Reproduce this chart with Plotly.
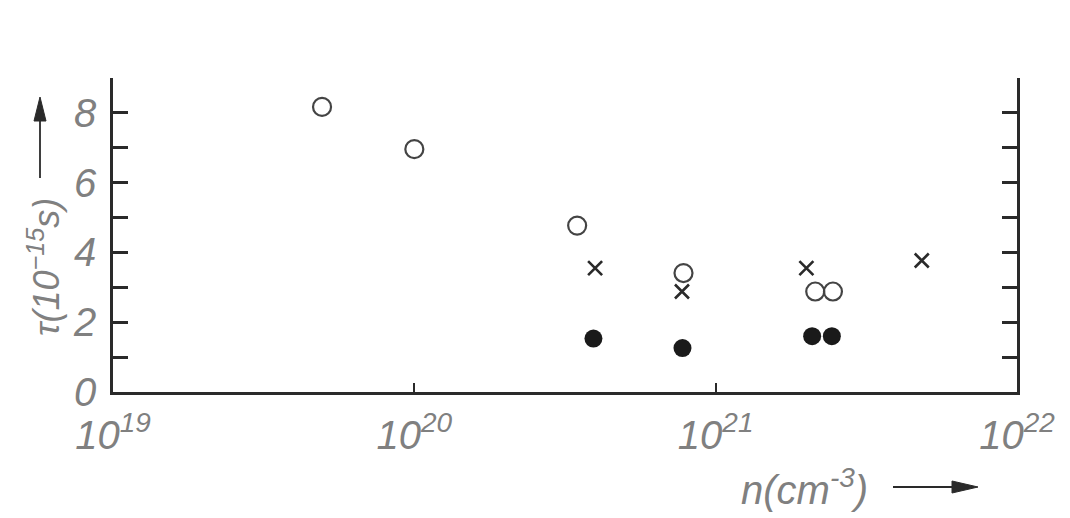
import plotly.graph_objects as go

# Carrier density n (cm^-3) and relaxation time tau (1e-15 s)
open_n = [4.94e19, 1.0e20, 3.47e20, 7.82e20, 2.14e21, 2.45e21]
open_tau = [8.17, 6.96, 4.77, 3.41, 2.88, 2.88]

cross_n = [3.98e20, 7.73e20, 2.0e21, 4.83e21]
cross_tau = [3.55, 2.88, 3.55, 3.77]

filled_n = [3.93e20, 7.76e20, 2.09e21, 2.43e21]
filled_tau = [1.53, 1.26, 1.60, 1.60]

x_tickvals = [1e19, 1e20, 1e21, 1e22]
x_ticktext = ["10<sup>19</sup>", "10<sup>20</sup>", "10<sup>21</sup>", "10<sup>22</sup>"]
y_tickvals = [0, 2, 4, 6, 8]
y_ticktext = ["0", "2", "4", "6", "8"]

INK = "#2a2a2a"
LABEL = "#808080"
FONT = "Liberation Sans"

W, H = 1070, 518
L, R, T, B = 113, 53, 78, 126
PW, PH = W - L - R, H - T - B


def px(x):
    return (x - L) / PW


def py(y):
    return (H - B - y) / PH


fig = go.Figure()

fig.add_trace(go.Scatter(
    x=open_n, y=open_tau, mode="markers",
    marker=dict(symbol="circle-open", size=18, color="#444444", line=dict(width=2.2, color="#444444")),
    showlegend=False,
))
fig.add_trace(go.Scatter(
    x=cross_n, y=cross_tau, mode="markers",
    marker=dict(symbol="x-thin-open", size=14, color=INK, line=dict(width=2.6, color=INK)),
    showlegend=False,
))
fig.add_trace(go.Scatter(
    x=filled_n, y=filled_tau, mode="markers",
    marker=dict(symbol="circle", size=18, color="#1a1a1a", line=dict(width=0)),
    showlegend=False,
))

fig.update_layout(
    width=W, height=H,
    margin=dict(l=L, r=R, t=T, b=B),
    paper_bgcolor="white", plot_bgcolor="white",
    font=dict(family=FONT, color=LABEL),
    xaxis=dict(
        type="log", range=[19, 22],
        tickvals=x_tickvals, ticktext=x_ticktext,
        ticks="inside", ticklen=9, tickwidth=2, tickcolor=INK,
        showline=True, linecolor=INK, linewidth=2.5, mirror=False,
        showgrid=False, zeroline=False,
        tickfont=dict(family=FONT, size=40, color=LABEL, style="italic"),
        ticklabelstandoff=6,
    ),
    yaxis=dict(
        range=[0, 9],
        tickvals=y_tickvals, ticktext=y_ticktext,
        ticks="inside", ticklen=15, tickwidth=2.5, tickcolor=INK,
        minor=dict(dtick=1, tick0=0, ticks="inside", ticklen=15, tickwidth=2.5, tickcolor=INK, showgrid=False),
        showline=True, linecolor=INK, linewidth=2.5, mirror="ticks",
        showgrid=False, zeroline=False,
        tickfont=dict(family=FONT, size=40, color=LABEL, style="italic"),
        ticklabelstandoff=6,
    ),
)

# Axis titles
fig.add_annotation(
    x=px(44), y=py(267), xref="paper", yref="paper",
    xanchor="center", yanchor="middle",
    text="τ(10<sup>−15</sup>s)", textangle=-90, showarrow=False,
    font=dict(family=FONT, size=36, color=LABEL, style="italic"),
)
fig.add_annotation(
    x=px(804), y=py(487), xref="paper", yref="paper",
    xanchor="center", yanchor="middle",
    text="n(cm<sup>-3</sup>)", showarrow=False,
    font=dict(family=FONT, size=40, color=LABEL, style="italic"),
)

# Direction arrows next to the axis titles
arrow = dict(xref="paper", yref="paper", line=dict(color=INK, width=1.8))
fig.add_shape(type="line", x0=px(40), y0=py(178), x1=px(40), y1=py(112), **arrow)
fig.add_shape(
    type="path",
    path=f"M {px(40)} {py(97)} L {px(34)} {py(121)} L {px(46)} {py(121)} Z",
    xref="paper", yref="paper", fillcolor=INK, line=dict(color=INK, width=1),
)
fig.add_shape(type="line", x0=px(893), y0=py(487), x1=px(960), y1=py(487), **arrow)
fig.add_shape(
    type="path",
    path=f"M {px(978)} {py(487)} L {px(952)} {py(481)} L {px(952)} {py(493)} Z",
    xref="paper", yref="paper", fillcolor=INK, line=dict(color=INK, width=1),
)

fig.write_html("out.html")
